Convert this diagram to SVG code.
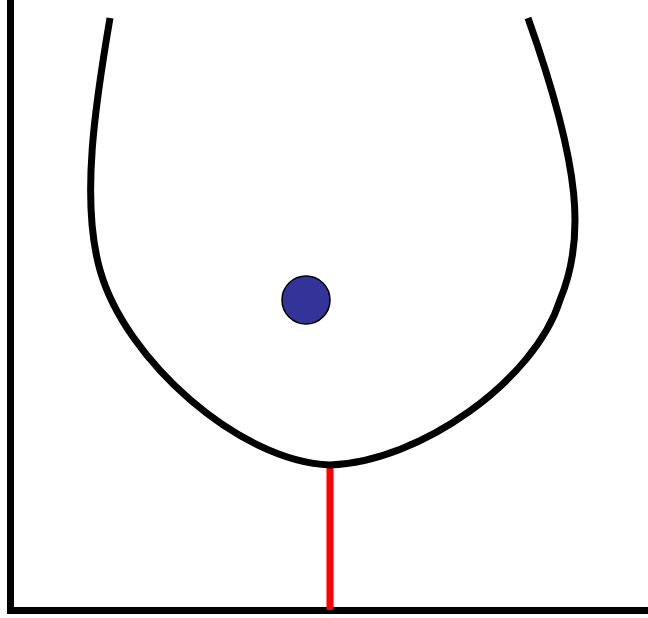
<svg xmlns="http://www.w3.org/2000/svg" width="648" height="618" viewBox="0 0 648 618">
<style>
.ax{stroke:#000;stroke-width:7;fill:none}
.curve{stroke:#000;stroke-width:7;fill:none;stroke-linecap:butt}
</style>
<rect width="648" height="618" fill="#fff"/>
<g id="axes">
<path class="ax" d="M10.5,0 V610.5 H648"/>
</g>
<g id="connectors">
<line x1="330" y1="466" x2="330" y2="610" stroke="#ff0000" stroke-width="7"/>
</g>
<g id="curve">
<path class="curve" d="M110,18 C96,100 80,200 100,270 C125,360 240,462 330,465 C420,462 535,380 560,300 C585,240 582,170 528,18"/>
</g>
<g id="point">
<circle cx="306" cy="300" r="24" fill="#333399" stroke="#000" stroke-width="1.5"/>
</g>
</svg>
